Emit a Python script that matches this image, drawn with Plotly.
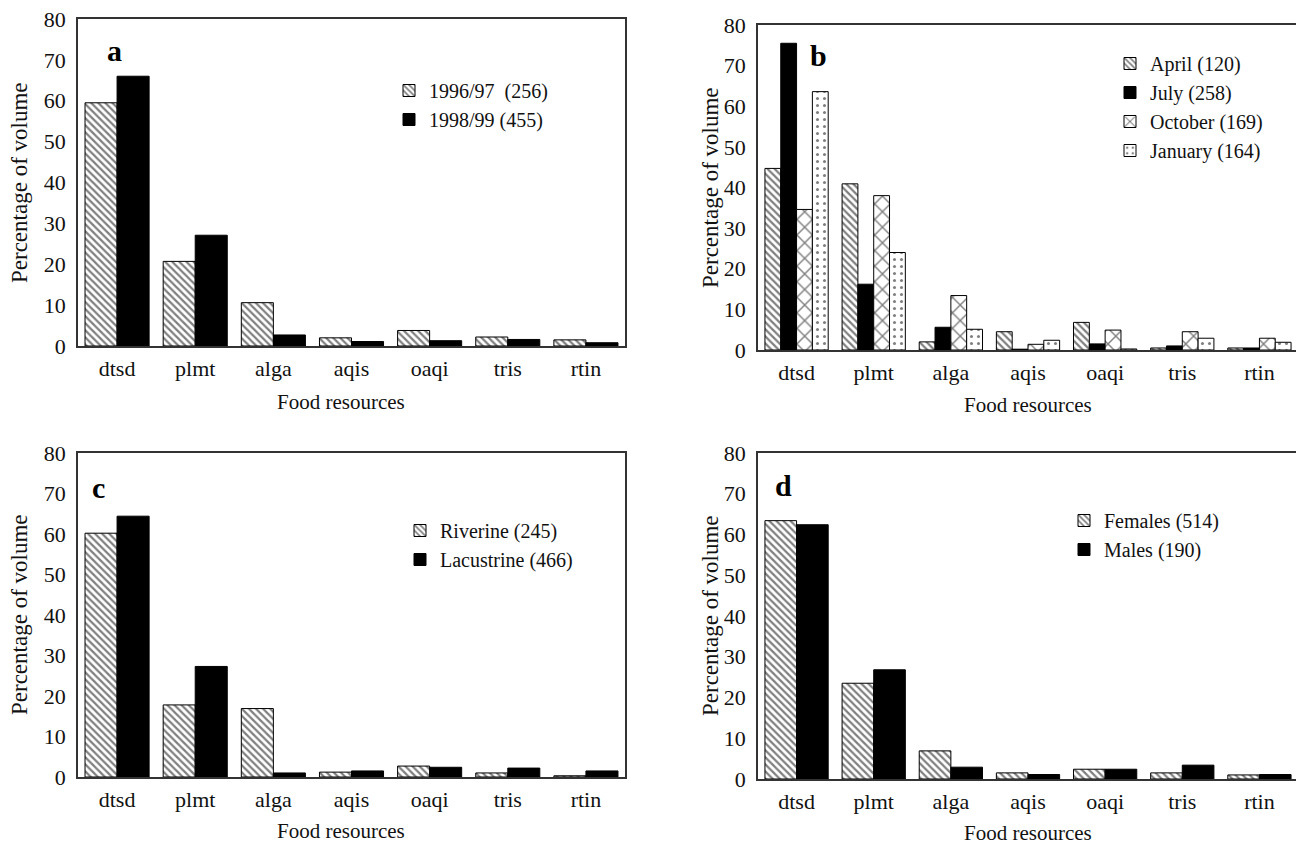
import plotly.graph_objects as go

# ---------------- data ----------------
categories = ["dtsd", "plmt", "alga", "aqis", "oaqi", "tris", "rtin"]

a_1996_97 = [59.5, 20.7, 10.6, 2.0, 3.8, 2.2, 1.5]
a_1998_99 = [66.0, 27.1, 2.7, 1.1, 1.3, 1.6, 0.8]

b_april = [44.7, 40.9, 2.0, 4.5, 6.8, 0.5, 0.5]
b_july = [75.5, 16.2, 5.6, 0.2, 1.5, 1.0, 0.5]
b_october = [34.6, 38.0, 13.4, 1.4, 4.9, 4.5, 2.9]
b_january = [63.6, 24.0, 5.1, 2.4, 0.25, 2.9, 1.9]

c_riverine = [60.2, 17.8, 16.9, 1.2, 2.7, 1.0, 0.3]
c_lacustrine = [64.4, 27.3, 1.0, 1.5, 2.4, 2.2, 1.5]

d_females = [63.4, 23.5, 6.9, 1.5, 2.4, 1.5, 1.0]
d_males = [62.4, 26.8, 2.9, 1.1, 2.4, 3.4, 1.1]

y_ticks = [0, 10, 20, 30, 40, 50, 60, 70, 80]
panel_letters = ["a", "b", "c", "d"]
x_title = "Food resources"
y_title = "Percentage of volume"

# ---------------- styling ----------------
OFF = 8                      # page body margin
W, H = 1304 - OFF, 845 - OFF
FONT = "Liberation Serif, Times New Roman, serif"
TXT = "#111111"

def px(x):
    return (x - OFF) / W

def py(y):
    return 1 - (y - OFF) / H

HATCH = dict(shape="\\", fgcolor="black", bgcolor="white", size=5, solidity=0.45)
SOLID = dict(shape="")
CROSS = dict(shape="x", fgcolor="black", bgcolor="white", size=11, solidity=0.24)
DOTS = dict(shape=".", fgcolor="black", bgcolor="white", size=7, solidity=0.15)

def bar(name, vals, pattern, xa, ya, legend, color="white"):
    return go.Bar(
        x=categories, y=vals, name=name,
        xaxis=xa, yaxis=ya, legend=legend, legendgroup=name,
        marker=dict(color=color, pattern=pattern,
                    line=dict(color="black", width=1)),
    )

fig = go.Figure()
fig.add_trace(bar("1996/97\u00a0 (256)", a_1996_97, HATCH, "x", "y", "legend"))
fig.add_trace(bar("1998/99 (455)", a_1998_99, SOLID, "x", "y", "legend", "black"))

fig.add_trace(bar("April (120)", b_april, HATCH, "x2", "y2", "legend2"))
fig.add_trace(bar("July (258)", b_july, SOLID, "x2", "y2", "legend2", "black"))
fig.add_trace(bar("October (169)", b_october, CROSS, "x2", "y2", "legend2"))
fig.add_trace(bar("January (164)", b_january, DOTS, "x2", "y2", "legend2"))

fig.add_trace(bar("Riverine (245)", c_riverine, HATCH, "x3", "y3", "legend3"))
fig.add_trace(bar("Lacustrine (466)", c_lacustrine, SOLID, "x3", "y3", "legend3", "black"))

fig.add_trace(bar("Females (514)", d_females, HATCH, "x4", "y4", "legend4"))
fig.add_trace(bar("Males (190)", d_males, SOLID, "x4", "y4", "legend4", "black"))

# panel boxes in reference pixel coords: (left, right, top, bottom)
boxes = [
    (78, 625, 19, 346),
    (758, 1298, 25, 350),
    (78, 625, 453, 777),
    (758, 1298, 453, 779),
]

layout = dict(
    width=W, height=H,
    margin=dict(l=0, r=0, t=0, b=0, autoexpand=False),
    paper_bgcolor="white", plot_bgcolor="white",
    font=dict(family=FONT, size=21, color=TXT),
    barmode="group", bargap=0.18, bargroupgap=0.0,
    showlegend=True,
)

for i, (l, r, t, b) in enumerate(boxes):
    sfx = "" if i == 0 else str(i + 1)
    layout["xaxis" + sfx] = dict(
        domain=[px(l), px(r)], anchor="y" + sfx,
        showline=True, linecolor="#333333", linewidth=1.5, mirror=True,
        ticks="", showgrid=False, zeroline=False, automargin=False,
        tickfont=dict(size=22, family=FONT, color=TXT),
        ticklabelstandoff=2, ticklabeloverflow="allow",
    )
    layout["yaxis" + sfx] = dict(
        domain=[py(b), py(t)], anchor="x" + sfx,
        range=[0, 80], tickvals=y_ticks,
        showline=True, linecolor="#333333", linewidth=1.5, mirror=True,
        ticks="", showgrid=False, zeroline=False, automargin=False,
        tickfont=dict(size=22, family=FONT, color=TXT),
        ticklabelstandoff=6, ticklabeloverflow="allow",
    )

def leg(x, y):
    return dict(x=px(x), y=py(y), xanchor="left", yanchor="top",
                bgcolor="rgba(0,0,0,0)", font=dict(size=20, family=FONT, color=TXT),
                traceorder="normal", tracegroupgap=2, itemwidth=30)

layout["legend"] = leg(389, 71)
layout["legend2"] = leg(1110, 44)
layout["legend3"] = leg(400, 511)
layout["legend4"] = leg(1064, 501)

fig.update_layout(**layout)

def ann(text, x, y, size, angle=0, bold=False, color=TXT):
    fig.add_annotation(text=("<b>%s</b>" % text) if bold else text,
                       x=px(x), y=py(y), xref="paper", yref="paper",
                       xanchor="center", yanchor="middle",
                       showarrow=False, textangle=angle,
                       font=dict(size=size, family=FONT, color=color))

# panel letters
letter_pos = [(114, 50), (818, 55), (98, 487), (783, 485)]
for letter, (x, y) in zip(panel_letters, letter_pos):
    ann(letter, x, y, 30, bold=True, color="black")

# axis titles
xt_pos = [(341, 402), (1028, 405), (341, 831), (1028, 833)]
for (x, y) in xt_pos:
    ann(x_title, x, y, 21)
yt_pos = [(19, 183), (710, 188), (19, 615), (710, 616)]
for (x, y) in yt_pos:
    ann(y_title, x, y, 23, angle=-90)

fig.write_html("out.html")
